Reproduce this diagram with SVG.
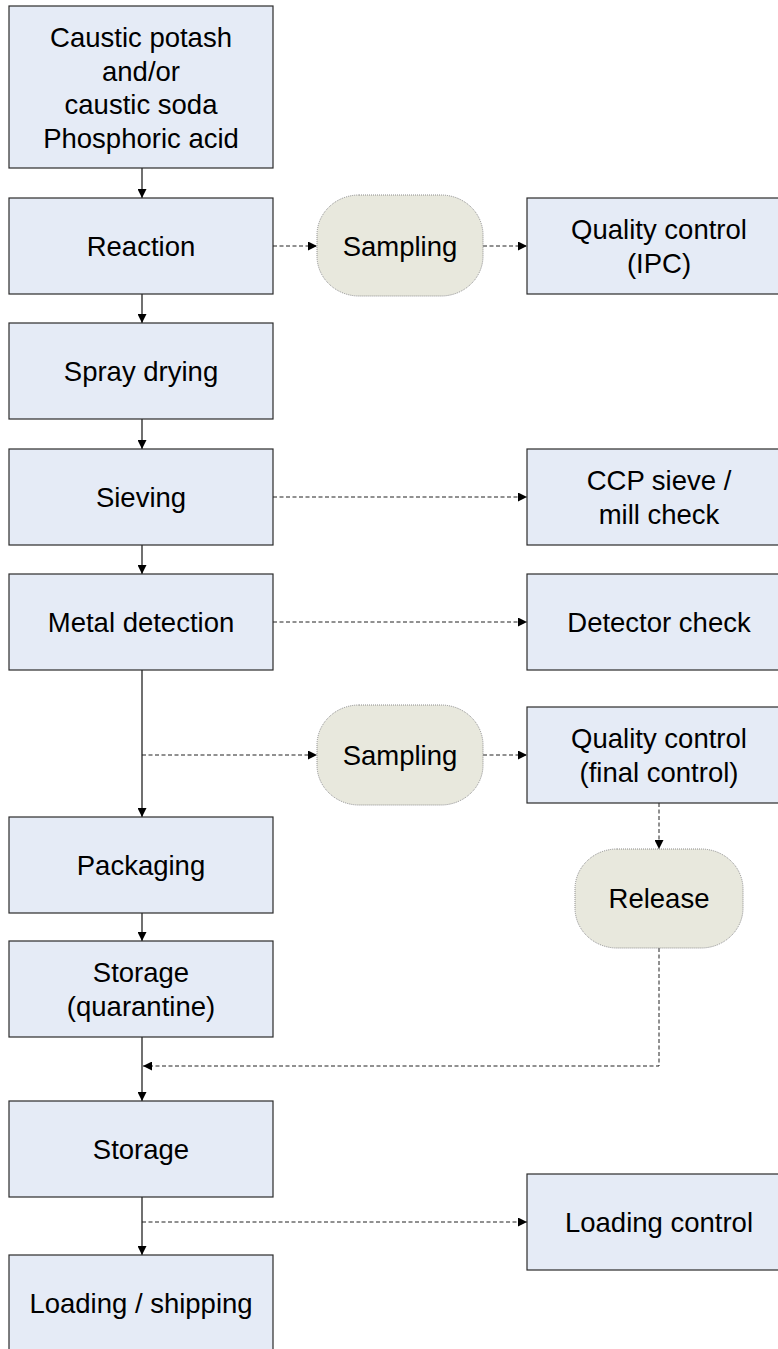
<svg xmlns="http://www.w3.org/2000/svg" width="778" height="1349" viewBox="0 0 778 1349">
<defs>
<marker id="ah" viewBox="0 0 10 10" refX="10" refY="5" markerWidth="9" markerHeight="9" markerUnits="userSpaceOnUse" orient="auto">
<path d="M0,0 L10,5 L0,10 Z" fill="#000"/>
</marker>
<style>
.box{fill:#E5EBF6;stroke:#2b2b2b;stroke-width:1.2}
.term{fill:#E8E8DD;stroke:#8a8a8a;stroke-width:1;stroke-dasharray:1 1}
.t{font-family:"Liberation Sans",Arial,sans-serif;font-size:27.5px;fill:#000;text-anchor:middle}
.solid{fill:none;stroke:#111;stroke-width:1.2}
.dash{fill:none;stroke:#222;stroke-width:1;stroke-dasharray:4 2.5}
</style>
</defs>
<rect width="778" height="1349" fill="#fff"/>
<g id="connectors">
<line class="solid" x1="142" y1="168" x2="142" y2="198" marker-end="url(#ah)"/>
<line class="solid" x1="142" y1="294" x2="142" y2="323" marker-end="url(#ah)"/>
<line class="solid" x1="142" y1="419" x2="142" y2="449" marker-end="url(#ah)"/>
<line class="solid" x1="142" y1="545" x2="142" y2="574" marker-end="url(#ah)"/>
<line class="solid" x1="142" y1="670" x2="142" y2="817" marker-end="url(#ah)"/>
<line class="solid" x1="142" y1="913" x2="142" y2="941" marker-end="url(#ah)"/>
<line class="solid" x1="142" y1="1037" x2="142" y2="1101" marker-end="url(#ah)"/>
<line class="solid" x1="142" y1="1197" x2="142" y2="1255" marker-end="url(#ah)"/>
<line class="dash" x1="273" y1="246" x2="317" y2="246" marker-end="url(#ah)"/>
<line class="dash" x1="483" y1="246" x2="527" y2="246" marker-end="url(#ah)"/>
<line class="dash" x1="273" y1="497" x2="527" y2="497" marker-end="url(#ah)"/>
<line class="dash" x1="273" y1="622" x2="527" y2="622" marker-end="url(#ah)"/>
<line class="dash" x1="142" y1="755" x2="317" y2="755" marker-end="url(#ah)"/>
<line class="dash" x1="483" y1="755" x2="527" y2="755" marker-end="url(#ah)"/>
<line class="dash" x1="659" y1="803" x2="659" y2="849" marker-end="url(#ah)"/>
<polyline class="dash" points="659,948 659,1066 143,1066" marker-end="url(#ah)"/>
<line class="dash" x1="142" y1="1222" x2="527" y2="1222" marker-end="url(#ah)"/>
</g>
<g id="n-raw">
<rect class="box" x="9" y="6" width="264" height="162"/>
<text class="t" x="141" y="47">Caustic potash</text>
<text class="t" x="141" y="80.5">and/or</text>
<text class="t" x="141" y="114">caustic soda</text>
<text class="t" x="141" y="147.5">Phosphoric acid</text>
</g>
<g id="n-reaction">
<rect class="box" x="9" y="198" width="264" height="96"/>
<text class="t" x="141" y="256">Reaction</text>
</g>
<g id="n-sampling1">
<rect class="term" x="317" y="195" width="166" height="101" rx="42" ry="40"/>
<text class="t" x="400" y="256">Sampling</text>
</g>
<g id="n-qc-ipc">
<rect class="box" x="527" y="198" width="264" height="96"/>
<text class="t" x="659" y="239">Quality control</text>
<text class="t" x="659" y="273">(IPC)</text>
</g>
<g id="n-spray">
<rect class="box" x="9" y="323" width="264" height="96"/>
<text class="t" x="141" y="381">Spray drying</text>
</g>
<g id="n-sieving">
<rect class="box" x="9" y="449" width="264" height="96"/>
<text class="t" x="141" y="507">Sieving</text>
</g>
<g id="n-ccp">
<rect class="box" x="527" y="449" width="264" height="96"/>
<text class="t" x="659" y="490">CCP sieve /</text>
<text class="t" x="659" y="524">mill check</text>
</g>
<g id="n-metal">
<rect class="box" x="9" y="574" width="264" height="96"/>
<text class="t" x="141" y="632">Metal detection</text>
</g>
<g id="n-detector">
<rect class="box" x="527" y="574" width="264" height="96"/>
<text class="t" x="659" y="632">Detector check</text>
</g>
<g id="n-sampling2">
<rect class="term" x="317" y="705" width="166" height="100" rx="42" ry="40"/>
<text class="t" x="400" y="765">Sampling</text>
</g>
<g id="n-qc-final">
<rect class="box" x="527" y="707" width="264" height="96"/>
<text class="t" x="659" y="748">Quality control</text>
<text class="t" x="659" y="782">(final control)</text>
</g>
<g id="n-release">
<rect class="term" x="575" y="849" width="168" height="99" rx="42" ry="40"/>
<text class="t" x="659" y="908">Release</text>
</g>
<g id="n-packaging">
<rect class="box" x="9" y="817" width="264" height="96"/>
<text class="t" x="141" y="875">Packaging</text>
</g>
<g id="n-storage-q">
<rect class="box" x="9" y="941" width="264" height="96"/>
<text class="t" x="141" y="982">Storage</text>
<text class="t" x="141" y="1016">(quarantine)</text>
</g>
<g id="n-storage">
<rect class="box" x="9" y="1101" width="264" height="96"/>
<text class="t" x="141" y="1159">Storage</text>
</g>
<g id="n-loading-control">
<rect class="box" x="527" y="1174" width="264" height="96"/>
<text class="t" x="659" y="1232">Loading control</text>
</g>
<g id="n-loading">
<rect class="box" x="9" y="1255" width="264" height="110"/>
<text class="t" x="141" y="1313">Loading / shipping</text>
</g>
</svg>
